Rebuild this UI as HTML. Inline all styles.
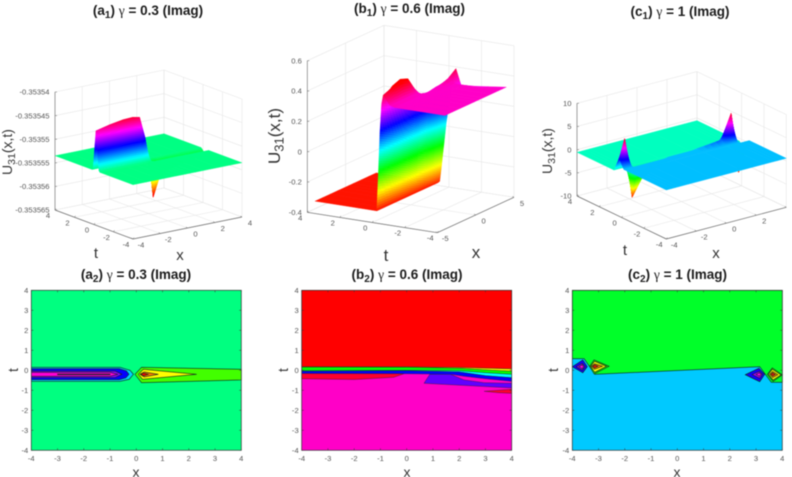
<!DOCTYPE html>
<html lang="en">
<head>
<meta charset="utf-8">
<title>U31(x,t) imaginary part surfaces and contours</title>
<style>
html,body{margin:0;padding:0;background:#fff;}
body{width:792px;height:477px;overflow:hidden;}
svg{display:block;font-family:"Liberation Sans",Arial,sans-serif;filter:blur(.4px);}
.title{font-size:13.5px;font-weight:bold;fill:#1c1c1c;text-anchor:middle;}
.gam{font-family:"Liberation Serif",serif;font-weight:normal;}
.lab{fill:#333;text-anchor:middle;}
.tick{font-size:7.6px;fill:#555;}
</style>
</head>
<body>
<svg id="fig" xmlns="http://www.w3.org/2000/svg" width="792" height="477" viewBox="0 0 792 477">
<rect width="792" height="477" fill="#fff"/>
<text class="title" x="148" y="15">(a<tspan dy="3" font-size="10">1</tspan><tspan dy="-3">) </tspan><tspan class="gam">γ</tspan> = 0.3 (Imag)</text>
<text class="title" x="409.5" y="13">(b<tspan dy="3" font-size="10">1</tspan><tspan dy="-3">) </tspan><tspan class="gam">γ</tspan> = 0.6 (Imag)</text>
<text class="title" x="680" y="16">(c<tspan dy="3" font-size="10">1</tspan><tspan dy="-3">) </tspan><tspan class="gam">γ</tspan> = 1 (Imag)</text>
<text class="title" x="136" y="279">(a<tspan dy="3" font-size="10">2</tspan><tspan dy="-3">) </tspan><tspan class="gam">γ</tspan> = 0.3 (Imag)</text>
<text class="title" x="407" y="279">(b<tspan dy="3" font-size="10">2</tspan><tspan dy="-3">) </tspan><tspan class="gam">γ</tspan> = 0.6 (Imag)</text>
<text class="title" x="677.5" y="279">(c<tspan dy="3" font-size="10">2</tspan><tspan dy="-3">) </tspan><tspan class="gam">γ</tspan> = 1 (Imag)</text>

<text class="lab" font-size="14" transform="translate(12,152) rotate(-90)">U<tspan dy="3" font-size="10.5">31</tspan><tspan dy="-3">(x,t)</tspan></text>
<text class="lab" font-size="17" transform="translate(280,136) rotate(-90)">U<tspan dy="3.5" font-size="13">31</tspan><tspan dy="-3.5">(x,t)</tspan></text>
<text class="lab" font-size="14" transform="translate(552,151) rotate(-90)">U<tspan dy="3" font-size="10.5">31</tspan><tspan dy="-3">(x,t)</tspan></text>
<text class="lab" font-size="15" x="96" y="258">t</text>
<text class="lab" font-size="15" x="180" y="260">x</text>
<text class="lab" font-size="17" x="386" y="261">t</text>
<text class="lab" font-size="17" x="476" y="258">x</text>
<text class="lab" font-size="15" x="625" y="255">t</text>
<text class="lab" font-size="15" x="716" y="258">x</text>
<text class="lab" font-size="14" x="136" y="477">x</text>
<text class="lab" font-size="14" x="407" y="477">x</text>
<text class="lab" font-size="14" x="677" y="477">x</text>
<text class="lab" font-size="14" transform="translate(18,370) rotate(-90)">t</text>
<text class="lab" font-size="14" transform="translate(288,370) rotate(-90)">t</text>
<text class="lab" font-size="14" transform="translate(558,370) rotate(-90)">t</text>
</svg>

<script>
/* ---------- surface a1: z in units of 1e-6 relative to -0.35355 ---------- */
const a1X = [-4,-3,-2,-1.3,-0.8,-0.4,-0.1,0.2,0.6,1.2,2.3,4];
const a1T = [4,0.2,0.1,-0.2,-0.5,-0.6,-4];
const a1Z = [
 [-3.5,-3.5,-3.5,-3.5,-3.5,-3.5,-3.5,-3.5,-3.5,-3.5,-3.5,-3.5],
 [-3.5,-3.5,-3.5,-3.5,-3.5,-3.5,-3.5,-3.5,-3.5,-3.5,-3.5,-3.5],
 [-3.2,-3.2,-3.2,-3.2,-3.2,-3.3,-3.5,-3.6,-3.6,-3.6,-3.6,-3.7],
 [5,5.7,6.2,6.3,6,1.5,-3.5,-11.5,-8,-6.5,-5.5,-4.6],
 [-3.2,-3.2,-3.2,-3.2,-3.2,-3.3,-3.5,-3.7,-3.6,-3.6,-3.6,-4.4],
 [-3.5,-3.5,-3.5,-3.5,-3.5,-3.5,-3.5,-3.5,-3.5,-3.5,-3.5,-3.5],
 [-3.5,-3.5,-3.5,-3.5,-3.5,-3.5,-3.5,-3.5,-3.5,-3.5,-3.5,-3.5]
];
const a1XTicks = [-4,-2,0,2,4];
const a1TTicks = [4,2,0,-2,-4];
const a1ZTicks = [-15,-10,-5,0,5,10];
const a1ZTickLabels = ["-0.353565","-0.35356","-0.353555","-0.35355","-0.353545","-0.35354"];

/* ---------- surface b1 ---------- */
const b1X = [-4,-3,-2,-1,-0.2,0.4,1,2,3,4];
const b1T = [4,0.2,0.1,0,-0.1,-0.2,-0.3,-0.6,-0.9,-1.3,-1.8,-4];
const b1Z = [
 [-.35,-.35,-.35,-.35,-.35,-.35,-.35,-.35,-.35,-.35],
 [-.35,-.35,-.35,-.35,-.35,-.35,-.35,-.35,-.35,-.35],
 [-.1,-.12,-.15,-.2,-.22,-.25,-.28,-.3,-.33,-.34],
 [.18,.15,.12,.08,.05,.02,-.02,-.05,-.18,-.25],
 [.36,.34,.3,.25,.2,.18,.14,.1,-.05,-.15],
 [.42,.44,.45,.42,.35,.24,.24,.2,.05,-.05],
 [.41,.46,.48,.46,.38,.3,.3,.29,.16,.05],
 [.36,.36,.36,.36,.35,.33,.33,.34,.34,.27],
 [.35,.35,.35,.35,.35,.35,.35,.36,.38,.42],
 [.35,.35,.35,.35,.35,.35,.35,.35,.35,.29],
 [.35,.35,.35,.35,.35,.35,.35,.35,.35,.32],
 [.35,.35,.35,.35,.35,.35,.35,.35,.35,.35]
];
const b1XTicks = [-5,0,5];
const b1TTicks = [4,2,0,-2,-4];
const b1ZTicks = [-0.4,-0.2,0,0.2,0.4,0.6];
const b1ZTickLabels = ["-0.4","-0.2","0","0.2","0.4","0.6"];

/* ---------- surface c1 ---------- */
const c1X = [-4,-3.65,-3.4,-3.15,-2.5,-1,1,2.5,3.15,3.4,3.65,4];
const c1T = [4,0.7,0.6,0.2,0.1,0,-0.1,-0.2,-0.6,-0.7,-4];
const c1Z = [
 [-.57,-.57,-.57,-.57,-.57,-.57,-.57,-.57,-.57,-.57,-.57,-.57],
 [-.57,-.57,-.57,-.57,-.57,-.57,-.57,-.57,-.57,-.57,-.57,-.57],
 [0,0,-.57,-.57,-.57,-.57,-.57,-.57,-.57,-.57,-.57,-.57],
 [2.5,6.5,1.5,-6.6,-3,-.57,-.57,-.57,-.57,-.57,-.57,-.57],
 [2,5,1.2,-5,-2.4,-.57,-.57,.8,1.2,-.57,-1.8,-1],
 [1.5,3.4,.9,-3.4,-1.7,-.57,.57,1,3,-.3,-3,-1.5],
 [1,1.8,.7,-1.8,-1,.57,.57,1.2,4.8,-.1,-5,-2],
 [.57,.57,.57,.57,.57,.57,.57,1.5,6.6,.1,-6.6,-2.5],
 [.57,.57,.57,.57,.57,.57,.57,.57,.57,.57,0,0],
 [.57,.57,.57,.57,.57,.57,.57,.57,.57,.57,.57,.57],
 [.57,.57,.57,.57,.57,.57,.57,.57,.57,.57,.57,.57]
];
const c1XTicks = [-4,-2,0,2,4];
const c1TTicks = [4,2,0,-2,-4];
const c1ZTicks = [-10,-5,0,5,10];
const c1ZTickLabels = ["-10","-5","0","5","10"];

/* ---------- contour maps: level = position on the hsv colormap, regions in (x,t) ---------- */
const contourTicks = [-4,-3,-2,-1,0,1,2,3,4];

const a2Levels = [.417,.53,.67,.76,.86,.97,.29,.165,.08,.0];
const a2Regions = [
 [[-4,-4],[4,-4],[4,4],[-4,4]],
 [[-4,.15],[-.62,.15],[-.24,0],[-.11,-.2],[-.27,-.45],[-.62,-.55],[-4,-.55]],
 [[-4,.08],[-.65,.08],[-.38,-.03],[-.28,-.2],[-.4,-.38],[-.65,-.47],[-4,-.47]],
 [[-4,-.04],[-.8,-.04],[-.55,-.2],[-.8,-.36],[-4,-.36]],
 [[-4,-.1],[-1,-.1],[-.7,-.2],[-1,-.3],[-4,-.3]],
 [[-3,-.19],[-1,-.19],[-1,-.22],[-3,-.22]],
 [[-.05,-.2],[.2,.15],[4,.05],[4,-.48],[.2,-.62]],
 [[.08,-.2],[.27,.05],[2.3,-.2],[.24,-.45]],
 [[.14,-.2],[.3,-.08],[.84,-.2],[.3,-.33]],
 [[.17,-.2],[.27,-.13],[.46,-.2],[.27,-.28]]
];

const b2Levels = [.87,.0,.16,.33,.5,.67,.73,.97,.97];
const b2Regions = [
 [[-4,-4],[4,-4],[4,4],[-4,4]],
 [[-4,.18],[0,.17],[2,.14],[4,.07],[4,4],[-4,4]],
 [[-4,.18],[0,.17],[2,.14],[4,.07],[4,-.05],[3,.02],[2,.1],[0,.15],[-4,.16]],
 [[-4,.16],[0,.15],[2,.1],[3,.02],[4,-.05],[4,-.2],[3,-.12],[2,-.02],[0,.0],[-4,-.02]],
 [[-4,-.02],[0,.0],[2,-.02],[3,-.12],[4,-.2],[4,-.37],[3,-.27],[2,-.08],[0,-.02],[-4,-.05]],
 [[-4,-.05],[0,-.02],[2,-.08],[3,-.27],[4,-.37],[4,-.55],[3,-.42],[2.2,-.3],[1.7,-.2],[0,-.17],[-4,-.16]],
 [[.66,-.65],[.88,-.2],[1.67,-.2],[2.18,-.48],[2.95,-.62],[4,-.65],[4,-.88]],
 [[-4,-.16],[-.1,-.17],[-.5,-.35],[-2,-.46],[-4,-.42]],
 [[2.95,-1.05],[4,-.95],[4,-1.15],[3.5,-1.12]]
];

const c2Levels = [.535,.36,.68,.78,.85,.3,.165,.08,.01,.68,.78,.85,.3,.165,.08,.01];
const c2Regions = [
 [[-4,-4],[4,-4],[4,4],[-4,4]],
 [[-4,.58],[-3.55,.58],[-3.14,-.2],[3.14,.18],[3.58,-.6],[4,-.6],[4,4],[-4,4]],
 [[-4,.18],[-3.6,.52],[-3.43,.18],[-3.6,-.12]],
 [[-3.85,.18],[-3.62,.35],[-3.52,.18],[-3.62,0]],
 [[-3.75,.18],[-3.62,.28],[-3.57,.18],[-3.62,.08]],
 [[-3.34,.2],[-3.17,.52],[-2.6,.2],[-3.17,-.18]],
 [[-3.3,.2],[-3.15,.45],[-2.7,.2],[-3.15,-.1]],
 [[-3.27,.2],[-3.15,.33],[-2.85,.2],[-3.15,.05]],
 [[-3.22,.2],[-3.15,.27],[-3.02,.2],[-3.15,.12]],
 [[2.59,-.22],[3.11,.1],[3.33,-.2],[3.14,-.57]],
 [[2.85,-.21],[3.12,-.05],[3.25,-.2],[3.14,-.4]],
 [[3.0,-.21],[3.12,-.12],[3.2,-.2],[3.13,-.3]],
 [[3.43,-.2],[3.62,.12],[4,-.23],[3.65,-.55]],
 [[3.47,-.2],[3.62,.05],[3.95,-.23],[3.65,-.48]],
 [[3.52,-.2],[3.63,-.06],[3.83,-.22],[3.64,-.36]],
 [[3.57,-.2],[3.63,-.13],[3.73,-.21],[3.64,-.28]]
];

/* ---------- shared helpers ---------- */
const NS = "http://www.w3.org/2000/svg";
const fig = document.getElementById("fig");

function hsv(h){
  h = Math.max(0, Math.min(1, h));
  const s = h * 6, i = Math.floor(s) % 6, f = s - Math.floor(s);
  const up = Math.round(255 * f), dn = Math.round(255 * (1 - f));
  const table = [[255,up,0],[dn,255,0],[0,255,up],[0,dn,255],[up,0,255],[255,0,dn]];
  const c = table[i];
  return "rgb(" + c[0] + "," + c[1] + "," + c[2] + ")";
}

function make(tag, name, parent){
  const node = document.createElementNS(NS, tag);
  
  
  parent.appendChild(node);
  return node;
}

function line(parent, name, a, b, color, width){
  const n = make("line", name, parent);
  n.setAttribute("x1", a[0]); n.setAttribute("y1", a[1]);
  n.setAttribute("x2", b[0]); n.setAttribute("y2", b[1]);
  n.setAttribute("stroke", color);
  n.setAttribute("stroke-width", width);
}

function label(parent, name, x, y, str, anchor, size){
  const n = make("text", name, parent);
  n.setAttribute("class", "tick");
  n.setAttribute("x", x); n.setAttribute("y", y);
  n.setAttribute("text-anchor", anchor);
  if (size) n.setAttribute("font-size", size);
  n.textContent = str;
}

/* ---------- 3D surface panel ---------- */
function surface(cfg){
  const g = make("g", "surface-panel-" + cfg.id, fig);
  const project = function(x, t, z){
    const fx = (x - cfg.xLim[0]) / (cfg.xLim[1] - cfg.xLim[0]);
    const ft = (cfg.tLim[1] - t) / (cfg.tLim[1] - cfg.tLim[0]);
    const fz = (z - cfg.zLim[0]) / (cfg.zLim[1] - cfg.zLim[0]);
    return [cfg.o[0] + fx*cfg.ex[0] + ft*cfg.et[0],
            cfg.o[1] + fx*cfg.ex[1] + ft*cfg.et[1] - fz*cfg.h];
  };
  const [x0,x1] = cfg.xLim, [t0,t1] = cfg.tLim, [z0,z1] = cfg.zLim;
  const gridC = "#e6e6e6", axisC = "#6a6a6a";

  cfg.xTicks.forEach(function(x){
    line(g, "floor-gridline-x", project(x,t0,z0), project(x,t1,z0), gridC, .6);
    line(g, "wall-gridline-x", project(x,t1,z0), project(x,t1,z1), gridC, .6);
  });
  cfg.tTicks.forEach(function(t){
    line(g, "floor-gridline-t", project(x0,t,z0), project(x1,t,z0), gridC, .6);
    line(g, "wall-gridline-t", project(x1,t,z0), project(x1,t,z1), gridC, .6);
  });
  cfg.zTicks.forEach(function(z){
    line(g, "wall-gridline-z", project(x0,t1,z), project(x1,t1,z), gridC, .6);
    line(g, "wall-gridline-z", project(x1,t1,z), project(x1,t0,z), gridC, .6);
  });
  line(g, "z-axis-line", project(x0,t1,z0), project(x0,t1,z1), axisC, .6);
  line(g, "t-axis-line", project(x0,t1,z0), project(x0,t0,z0), axisC, .7);
  line(g, "x-axis-line", project(x0,t0,z0), project(x1,t0,z0), axisC, .7);

  cfg.zTicks.forEach(function(z, i){
    const p = project(x0,t1,z);
    line(g, "z-tick", p, [p[0]+2,p[1]], axisC, .5);
    label(g, "z-tick-label", p[0]-5.5, p[1]+2.7, cfg.zLabels[i], "end");
  });
  cfg.tTicks.forEach(function(t){
    const p = project(x0,t,z0);
    line(g, "t-tick", p, [p[0]+1,p[1]-1.5], axisC, .5);
    label(g, "t-tick-label", p[0]-7, p[1]+8, String(t), "middle");
  });
  cfg.xTicks.forEach(function(x){
    const p = project(x,t0,z0);
    line(g, "x-tick", p, [p[0]-1.5,p[1]-1], axisC, .5);
    label(g, "x-tick-label", p[0]+8, p[1]+8.5, String(x), "middle");
  });

  const sg = make("g", "surface-mesh-" + cfg.id, g);
  const X = cfg.x, T = cfg.t, Z = cfg.z;
  const range = cfg.cLim[1] - cfg.cLim[0];
  const hue = function(z){ return (z - cfg.cLim[0]) / range; };
  const facet = function(pts, z){
    const n = make("polygon", "surface-facet", sg);
    n.setAttribute("points", pts.map(function(p){ return p[0].toFixed(2)+","+p[1].toFixed(2); }).join(" "));
    const col = hsv(hue(z));
    n.setAttribute("fill", col);
    n.setAttribute("stroke", col);
    n.setAttribute("stroke-width", ".35");
  };
  /* painter's order: far (large t, large x) to near */
  for (let r = 0; r < T.length - 1; r++){
    for (let c = X.length - 2; c >= 0; c--){
      const a = Z[r][c], b = Z[r][c+1], d = Z[r+1][c], e = Z[r+1][c+1];
      const spread = Math.max(a,b,d,e) - Math.min(a,b,d,e);
      const N = Math.max(1, Math.min(28, Math.ceil(spread / range * 45)));
      for (let i = 0; i < N; i++){
        for (let j = N - 1; j >= 0; j--){
          const u0 = i/N, u1 = (i+1)/N, v0 = j/N, v1 = (j+1)/N;
          const at = function(u, v){
            const zz = (a*(1-v)+b*v)*(1-u) + (d*(1-v)+e*v)*u;
            return [X[c]+(X[c+1]-X[c])*v, T[r]+(T[r+1]-T[r])*u, zz];
          };
          const q = [at(u0,v0), at(u0,v1), at(u1,v1), at(u1,v0)];
          const mean = (q[0][2]+q[1][2]+q[2][2]+q[3][2]) / 4;
          facet(q.map(function(p){ return project(p[0],p[1],p[2]); }), mean);
        }
      }
    }
  }
}

/* ---------- 2D contour panel ---------- */
function contour(cfg){
  const g = make("g", "contour-panel-" + cfg.id, fig);
  const sx = function(x){ return cfg.left + (x + 4) / 8 * cfg.w; };
  const sy = function(t){ return cfg.top + (4 - t) / 8 * cfg.h; };
  cfg.regions.forEach(function(reg, i){
    const n = make("polygon", "contour-region", g);
    n.setAttribute("points", reg.map(function(p){ return sx(p[0]).toFixed(2)+","+sy(p[1]).toFixed(2); }).join(" "));
    n.setAttribute("fill", hsv(cfg.levels[i]));
    n.setAttribute("stroke", i === 0 ? "none" : "#10261c");
    n.setAttribute("stroke-width", cfg.edge);
  });
  const frame = make("rect", "plot-frame", g);
  frame.setAttribute("x", cfg.left); frame.setAttribute("y", cfg.top);
  frame.setAttribute("width", cfg.w); frame.setAttribute("height", cfg.h);
  frame.setAttribute("fill", "none"); frame.setAttribute("stroke", "#333"); frame.setAttribute("stroke-width", ".7");
  contourTicks.forEach(function(v){
    line(g, "x-tick", [sx(v),cfg.top+cfg.h], [sx(v),cfg.top+cfg.h-2], "#333", .5);
    line(g, "x-tick", [sx(v),cfg.top], [sx(v),cfg.top+2], "#333", .5);
    line(g, "y-tick", [cfg.left,sy(v)], [cfg.left+2,sy(v)], "#333", .5);
    line(g, "y-tick", [cfg.left+cfg.w,sy(v)], [cfg.left+cfg.w-2,sy(v)], "#333", .5);
    label(g, "x-tick-label", sx(v), cfg.top+cfg.h+10.5, String(v), "middle", "7.6");
    label(g, "y-tick-label", cfg.left-3, sy(v)+2.7, String(v), "end", "7.6");
  });
}

surface({id:"a1", x:a1X, t:a1T, z:a1Z, xLim:[-4,4], tLim:[-4,4], zLim:[-15,10], cLim:[-11,6.9],
  o:[55,210], ex:[109,-22], et:[78,29], h:118,
  xTicks:a1XTicks, tTicks:a1TTicks, zTicks:a1ZTicks, zLabels:a1ZTickLabels});
surface({id:"b1", x:b1X, t:b1T, z:b1Z, xLim:[-5,5], tLim:[-4,4], zLim:[-0.4,0.6], cLim:[-0.36,0.456],
  o:[307.3,212.3], ex:[76.7,-35.4], et:[130,20.4], h:151.6,
  xTicks:b1XTicks, tTicks:b1TTicks, zTicks:b1ZTicks, zLabels:b1ZTickLabels});
surface({id:"c1", x:c1X, t:c1T, z:c1Z, xLim:[-4,4], tLim:[-4,4], zLim:[-10,10], cLim:[-6.8,6.8],
  o:[577,196], ex:[120,-31.7], et:[89.3,43], h:92.7,
  xTicks:c1XTicks, tTicks:c1TTicks, zTicks:c1ZTicks, zLabels:c1ZTickLabels});

contour({id:"a2", left:31.3, top:290.3, w:210, h:160, edge:.6, regions:a2Regions, levels:a2Levels});
contour({id:"b2", left:301.7, top:290.3, w:210, h:160, edge:.35, regions:b2Regions, levels:b2Levels});
contour({id:"c2", left:572.3, top:290.3, w:210, h:160, edge:.6, regions:c2Regions, levels:c2Levels});
</script>
</body>
</html>
